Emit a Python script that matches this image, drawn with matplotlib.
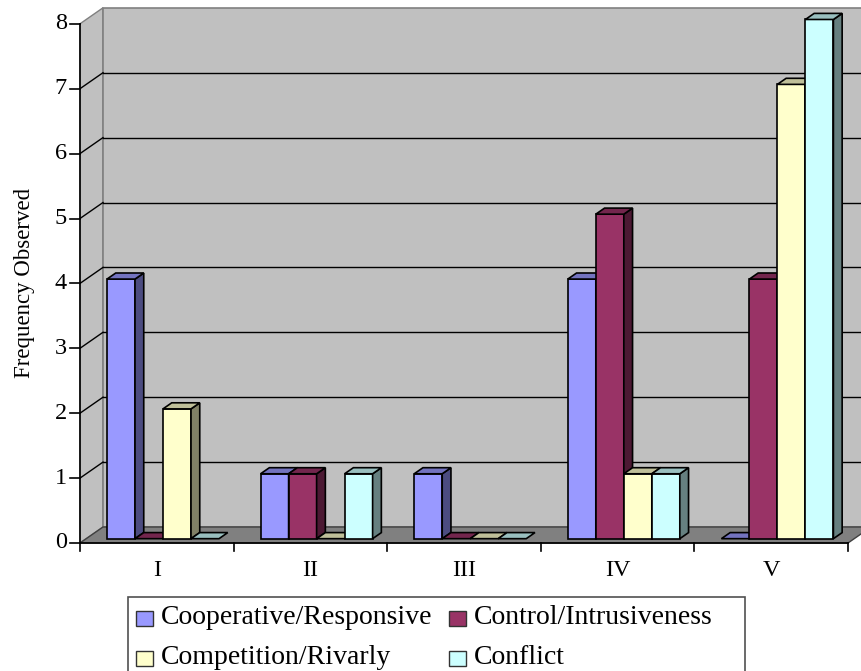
import matplotlib.pyplot as plt
from matplotlib.patches import Polygon, Rectangle

plt.rcParams['font.family'] = ['Liberation Serif', 'DejaVu Serif']

categories = ['I', 'II', 'III', 'IV', 'V']
series_names = ['Cooperative/Responsive', 'Control/Intrusiveness',
                'Competition/Rivarly', 'Conflict']
cooperative = [4, 1, 1, 4, 0]
control = [0, 1, 0, 5, 4]
competition = [2, 0, 0, 1, 7]
conflict = [0, 1, 0, 1, 8]
series = [cooperative, control, competition, conflict]
y_ticks = [0, 1, 2, 3, 4, 5, 6, 7, 8]

# front, side, top shades for each series
colors = [
    ('#9999FF', '#4C4C80', '#7373BF'),
    ('#993366', '#4C1933', '#73264D'),
    ('#FFFFCC', '#808066', '#BFBF99'),
    ('#CCFFFF', '#668080', '#99BFBF'),
]

W, H = 861, 671
fig = plt.figure(figsize=(W / 100, H / 100), dpi=100)
ax = fig.add_axes([0, 0, 1, 1])

# axis scale: pixels per unit
sx, sy = 153.6, 64.9
x0_px, y0_px = 80, 543
ax.set_xlim(-x0_px / sx, (W - x0_px) / sx)
ax.set_ylim(-(H - y0_px) / sy, y0_px / sy)
ax.axis('off')

# depth offset of the back wall
DX, DY = 23 / sx, 16 / sy
ymax = 8
xend = (W - x0_px) / sx + 0.1

# left side wall
ax.add_patch(Polygon([(0, 0), (0, ymax), (DX, ymax + DY), (DX, DY)],
                     closed=True, facecolor='#C0C0C0', edgecolor='#808080', lw=1, zorder=1))
# back wall
ax.add_patch(Polygon([(DX, DY), (DX, ymax + DY), (xend, ymax + DY), (xend, DY)],
                     closed=True, facecolor='#C0C0C0', edgecolor='#808080', lw=1.2, zorder=1))
# gridlines on both walls
for v in y_ticks[1:-1]:
    ax.plot([0, DX], [v, v + DY], color='black', lw=1, zorder=2)
    ax.plot([DX, xend], [v + DY, v + DY], color='black', lw=1, zorder=2)
# floor
ax.add_patch(Polygon([(0, 0), (5, 0), (5 + DX, DY), (DX, DY)],
                     closed=True, facecolor='#808080', edgecolor='#404040', lw=1, zorder=2))

# bars
n = len(series)
bw = 28 / sx
pad = (1 - n * bw) / 2
f0, f1 = 0.27, 0.65  # bar front / back depth fraction
for ci in range(len(categories)):
    for si, vals in enumerate(series):
        v = vals[ci]
        fc, sc, tc = colors[si]
        xl = ci + pad + si * bw + f0 * DX
        xr = xl + bw
        yb = f0 * DY
        ddx, ddy = (f1 - f0) * DX, (f1 - f0) * DY
        yt = yb + v
        z = 5 + si
        if v > 0:
            ax.add_patch(Polygon([(xl, yb), (xr, yb), (xr, yt), (xl, yt)], closed=True,
                                 facecolor=fc, edgecolor='black', lw=1.2, zorder=z))
            ax.add_patch(Polygon([(xr, yb), (xr + ddx, yb + ddy), (xr + ddx, yt + ddy), (xr, yt)],
                                 closed=True, facecolor=sc, edgecolor='black', lw=1.2, zorder=z))
        ax.add_patch(Polygon([(xl, yt), (xr, yt), (xr + ddx, yt + ddy), (xl + ddx, yt + ddy)],
                             closed=True, facecolor=tc, edgecolor='black', lw=1.2, zorder=z))

# axes lines, ticks and labels
ax.plot([0, 0], [0, ymax], color='black', lw=1.2, zorder=20)
ax.plot([0, 5], [0, 0], color='black', lw=1.2, zorder=20)
tl = 10 / sx
for v in y_ticks:
    ax.plot([-tl, 0], [v, v], color='black', lw=1.2, zorder=20)
    ax.text(-tl - 3 / sx, v, str(v), ha='right', va='center', fontsize=17.5)
for i in range(len(categories) + 1):
    ax.plot([i, i], [0, -8 / sy], color='black', lw=1.2, zorder=20)
for i, c in enumerate(categories):
    ax.text(i + 0.5, -27 / sy, c, ha='center', va='center', fontsize=17.5)

ax.text(-55 / sx, 4, 'Frequency Observed', rotation=90, ha='center', va='center',
        fontsize=16.5)

# legend box, partly below the figure edge
def fx(px):
    return px / W

def fy(py):
    return 1 - py / H

fig.patches.append(Rectangle((fx(128), fy(700)), fx(745) - fx(128), fy(597) - fy(700),
                             transform=fig.transFigure, facecolor='white',
                             edgecolor='#505050', lw=1.2))
leg_pos = [(136, 618), (449, 618), (136, 658), (449, 658)]
for (px, py), name, (fc, _, _) in zip(leg_pos, series_names, colors):
    fig.patches.append(Rectangle((fx(px), fy(py + 7.5)), fx(17), 15 / H,
                                 transform=fig.transFigure, facecolor=fc,
                                 edgecolor='#333333', lw=1))
    fig.text(fx(px + 25), fy(py), name, ha='left', va='center', fontsize=20)

fig.savefig('out.png', dpi=100)
